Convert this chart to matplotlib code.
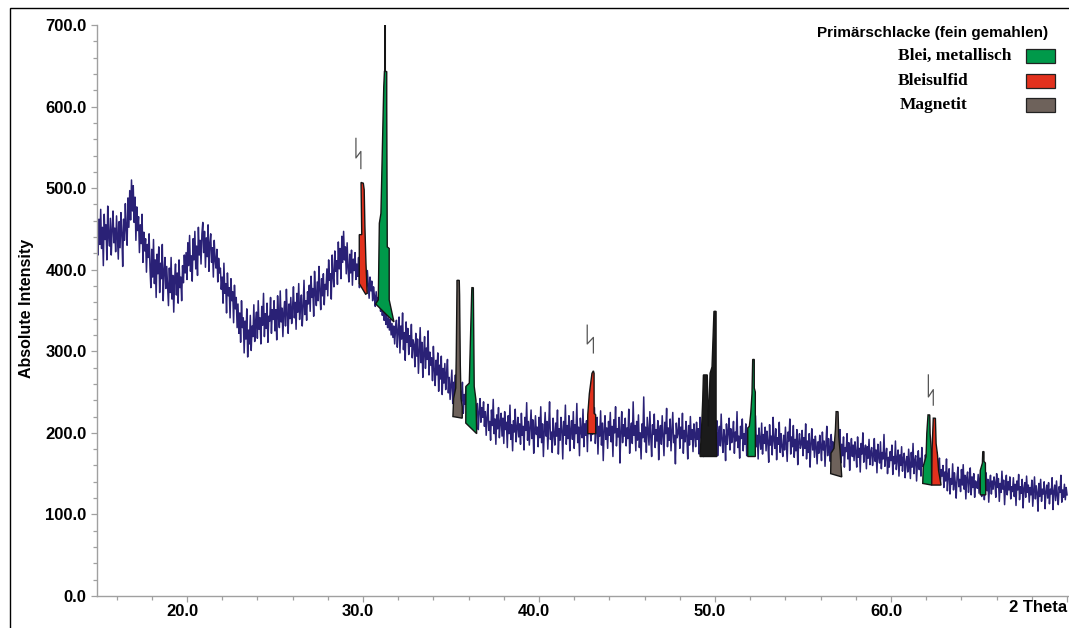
import numpy as np
import matplotlib
matplotlib.use("Agg")
import matplotlib.pyplot as plt
from matplotlib.patches import Rectangle
from matplotlib.ticker import MultipleLocator, FuncFormatter
import matplotlib.transforms as mtransforms

# ---------------- data ----------------
scan_start = 14.9      # 2 Theta of first point
scan_step = 0.05       # 2 Theta step
intensity = [
    445, 418, 462, 431, 474, 426, 452, 405, 468, 437, 455, 412, 478, 441, 429, 463, 418, 449, 472, 433,
    451, 422, 466, 438, 413, 459, 427, 470, 445, 404, 462, 436, 481, 449, 430, 488, 452, 497, 461, 510,
    472, 503, 458, 489, 436, 477, 448, 465, 421, 455, 432, 468, 409, 446, 423, 438, 397, 431, 415, 444,
    402, 378, 425, 391, 437, 383, 412, 366, 419, 395, 428, 372, 408, 389, 431, 362, 398, 415, 377, 404,
    381, 356, 402, 372, 415, 364, 393, 348, 388, 407, 369, 396, 359, 412, 378, 391, 362, 405, 384, 418,
    396, 421, 388, 433, 405, 442, 398, 417, 386, 438, 412, 447, 401, 429, 393, 452, 418, 436, 407, 444,
    458, 421, 447, 403, 439, 416, 455, 398, 432, 444, 409, 427, 391, 436, 412, 402, 425, 385, 414, 396,
    402, 376, 391, 359, 408, 371, 383, 347, 396, 368, 378, 341, 389, 362, 373, 335, 381, 352, 366, 329,
    358, 322, 347, 311, 362, 329, 341, 298, 337, 315, 352, 293, 326, 309, 344, 301, 331, 318, 357, 312,
    336, 348, 316, 362, 327, 341, 309, 355, 332, 371, 318, 346, 328, 359, 311, 343, 337, 366, 322, 351,
    339, 362, 325, 351, 314, 368, 342, 329, 374, 336, 353, 318, 347, 361, 331, 376, 345, 322, 358, 340,
    366, 334, 352, 379, 341, 360, 327, 371, 348, 383, 339, 357, 369, 331, 354, 387, 345, 362, 338, 373,
    358, 381, 349, 392, 366, 377, 343, 398, 371, 356, 385, 362, 404, 375, 351, 389, 368, 395, 357, 382,
    376, 401, 368, 412, 387, 395, 364, 418, 392, 379, 423, 398, 411, 382, 434, 401, 426, 389, 441, 409,
    447, 412, 428, 395, 433, 402, 385, 419, 396, 424, 381, 413, 399, 421, 388, 407, 392, 415, 378, 401,
    396, 384, 410, 377, 402, 388, 371, 399, 382, 365, 391, 374, 386, 362, 379, 368, 355, 373, 359, 366,
    358, 371, 349, 362, 344, 357, 338, 351, 333, 346, 329, 341, 326, 339, 320, 334, 317, 331, 309, 327,
    338, 305, 326, 342, 298, 331, 315, 347, 302, 323, 289, 336, 311, 328, 296, 319, 306, 333, 292, 314,
    308, 281, 322, 294, 315, 273, 301, 329, 286, 311, 268, 297, 318, 279, 304, 290, 325, 271, 299, 283,
    292, 264, 306, 277, 258, 289, 271, 298, 251, 283, 266, 294, 247, 279, 261, 285, 253, 273, 290, 249,
    268, 241, 259, 277, 236, 262, 249, 271, 231, 255, 244, 266, 228, 251, 239, 262, 224, 247, 235, 256,
    229, 246, 218, 238, 224, 251, 212, 233, 221, 243, 209, 229, 236, 204, 225, 242, 213, 231, 219, 238,
    208, 226, 197, 219, 235, 203, 214, 191, 228, 209, 241, 199, 217, 186, 222, 205, 231, 194, 213, 224,
    196, 218, 187, 226, 204, 213, 182, 221, 199, 234, 192, 210, 178, 215, 201, 229, 189, 206, 219, 195,
    211, 186, 224, 197, 208, 179, 219, 203, 237, 191, 214, 185, 206, 228, 193, 216, 175, 202, 221, 198,
    207, 183, 219, 194, 232, 188, 211, 171, 203, 225, 196, 214, 180, 207, 238, 192, 201, 176, 218, 199,
    185, 212, 196, 228, 174, 205, 191, 219, 203, 168, 214, 197, 234, 186, 209, 193, 221, 178, 204, 215,
    192, 226, 181, 210, 199, 236, 188, 207, 172, 218, 201, 194, 229, 183, 211, 197, 215, 177, 220, 203,
    209, 190, 223, 198, 214, 231, 187, 205, 219, 174, 208, 196, 227, 185, 212, 166, 203, 221, 192, 206,
    181, 214, 197, 225, 189, 208, 171, 216, 200, 232, 184, 205, 195, 219, 163, 201, 226, 188, 210, 196,
    218, 184, 206, 193, 229, 175, 203, 212, 187, 238, 197, 209, 178, 214, 191, 222, 182, 200, 168, 211,
    194, 244, 189, 207, 176, 219, 201, 185, 226, 195, 171, 210, 198, 223, 182, 204, 190, 215, 167, 202,
    209, 186, 221, 195, 172, 213, 199, 230, 183, 206, 191, 217, 178, 203, 225, 188, 197, 162, 212, 194,
    200, 218, 181, 207, 193, 224, 175, 203, 189, 214, 196, 168, 209, 185, 220, 192, 204, 177, 211, 198,
    183, 213, 192, 205, 174, 219, 196, 187, 208, 171, 201, 190, 215, 182, 206, 194, 178, 209, 188, 199,
    193, 180, 206, 188, 215, 172, 199, 208, 184, 223, 191, 176, 204, 195, 166, 211, 186, 201, 218, 179,
    205, 188, 197, 214, 175, 201, 190, 226, 182, 196, 169, 208, 193, 217, 178, 199, 186, 211, 172, 203,
    194, 181, 209, 187, 200, 176, 215, 190, 221, 183, 197, 168, 206, 192, 180, 212, 174, 198, 187, 207,
    178, 202, 189, 164, 210, 185, 196, 173, 219, 191, 181, 205, 167, 194, 186, 213, 176, 199, 183, 171,
    197, 179, 207, 186, 165, 201, 190, 217, 174, 195, 183, 209, 170, 192, 178, 204, 161, 188, 199, 181,
    186, 203, 172, 194, 181, 211, 168, 190, 176, 199, 158, 187, 205, 179, 192, 170, 196, 183, 162, 189,
    175, 197, 184, 166, 201, 179, 190, 159, 186, 208, 172, 193, 181, 165, 198, 177, 189, 170, 184, 162,
    180, 167, 191, 175, 204, 163, 186, 172, 195, 158, 182, 177, 199, 168, 188, 154, 179, 193, 171, 185,
    166, 189, 176, 158, 195, 170, 181, 152, 187, 174, 200, 164, 178, 185, 156, 183, 169, 192, 161, 177,
    182, 160, 174, 193, 165, 179, 151, 186, 171, 163, 189, 156, 176, 168, 198, 159, 172, 181, 150, 170,
    158, 177, 166, 185, 149, 171, 162, 190, 155, 168, 179, 147, 173, 160, 183, 153, 169, 175, 145, 164,
    171, 152, 180, 163, 144, 176, 158, 187, 150, 166, 172, 141, 164, 178, 155, 169, 147, 182, 159, 161,
    150, 173, 162, 145, 179, 156, 167, 140, 171, 153, 184, 148, 163, 158, 176, 143, 160, 169, 138, 155,
    147, 160, 133, 152, 141, 168, 129, 149, 156, 125, 144, 137, 162, 130, 151, 139, 120, 146, 158, 134,
    143, 128, 155, 136, 161, 131, 148, 119, 145, 152, 127, 140, 157, 124, 146, 133, 150, 121, 141, 138,
    132, 149, 126, 144, 154, 122, 139, 147, 118, 136, 151, 129, 143, 115, 137, 148, 125, 141, 131, 146,
    139, 121, 150, 133, 144, 116, 138, 127, 153, 131, 142, 112, 135, 148, 124, 140, 130, 146, 119, 134,
    128, 145, 122, 137, 111, 141, 130, 149, 118, 134, 126, 143, 108, 132, 139, 121, 147, 127, 136, 115,
    133, 124, 142, 110, 129, 146, 119, 135, 127, 104, 138, 122, 143, 116, 131, 125, 140, 107, 128, 136,
    120, 139, 113, 131, 125, 145, 106, 128, 136, 117, 141, 123, 112, 134, 127, 148, 115, 130, 121, 137,
    118, 133, 124,
]

# Phase peak outlines (2 Theta, absolute intensity)
pbs_30_tt = [29.79, 29.79, 29.93, 29.89, 30.02, 30.07, 30.11, 30.17, 30.24, 30.15]
pbs_30_i = [383, 443, 443, 507, 506, 498, 453, 408, 371, 370]

pb_31_tt = [30.72, 30.87, 30.93, 31.02, 31.18, 31.22, 31.24, 31.24, 31.27, 31.27, 31.35, 31.35,
            31.38, 31.49, 31.49, 31.76]
pb_31_i = [358, 363, 457, 469, 624, 643, 643, 705, 705, 643, 643, 600, 428, 426, 363, 336]

fe3o4_35_tt = [35.11, 35.15, 35.27, 35.30, 35.34, 35.34, 35.47, 35.49, 35.53, 35.57, 35.64, 35.64]
fe3o4_35_i = [220, 242, 255, 295, 377, 387, 387, 369, 283, 242, 232, 218]

pb_36_tt = [35.84, 35.85, 36.04, 36.18, 36.19, 36.27, 36.32, 36.42, 36.46]
pb_36_i = [212, 257, 261, 375, 378, 378, 257, 240, 199]

pbs_43_tt = [42.77, 42.77, 42.86, 43.01, 43.09, 43.13, 43.13, 43.22, 43.22]
pbs_43_i = [199, 222, 248, 273, 276, 273, 224, 222, 199]

unk_50_tt = [49.15, 49.24, 49.30, 49.34, 49.56, 49.62, 49.72, 49.83, 49.90, 49.94, 50.06, 50.06, 50.10]
unk_50_i = [171, 208, 240, 271, 271, 208, 273, 281, 324, 349, 349, 208, 171]

pb_52_tt = [51.86, 51.86, 51.95, 52.03, 52.10, 52.14, 52.23, 52.23, 52.29, 52.29]
pb_52_i = [171, 206, 208, 224, 248, 290, 290, 255, 250, 171]

fe3o4_57_tt = [56.57, 56.59, 56.76, 56.84, 56.88, 56.99, 57.03, 57.10, 57.20]
fe3o4_57_i = [150, 175, 181, 204, 226, 226, 195, 179, 146]

pb_62_tt = [61.80, 61.83, 61.99, 62.03, 62.10, 62.20, 62.22, 62.29, 62.31]
pb_62_i = [138, 159, 171, 199, 222, 222, 199, 179, 136]

pbs_62_tt = [62.31, 62.33, 62.40, 62.52, 62.56, 62.64, 62.70, 62.84]
pbs_62_i = [136, 179, 218, 218, 187, 173, 154, 136]

pb_65_tt = [65.07, 65.07, 65.19, 65.21, 65.28, 65.28, 65.36, 65.38]
pb_65_i = [124, 154, 163, 177, 177, 165, 163, 124]

# break marks (zig-zag) above peaks: x-left, x-right, y-top, y-kink-low, y-kink-high, y-bottom
break_marks = [
    (29.60, 29.88, 561, 537, 545, 524),
    (42.74, 43.09, 332, 309, 317, 298),
    (62.12, 62.40, 271, 244, 253, 234),
]

legend_title = "Primärschlacke (fein gemahlen)"
legend_labels = ["Blei, metallisch", "Bleisulfid", "Magnetit"]

# ---------------- style ----------------
C_LINE = "#2a2176"
C_GREEN = "#00994a"
C_RED = "#e2311d"
C_GREY = "#6e625b"
C_BLACK = "#1b1b1b"
C_AXIS = "#a0a0a0"
SANS = "Liberation Sans"

W, H = 1069, 628
fig = plt.figure(figsize=(W / 100, H / 100), dpi=100)


def fx(px):
    return px / W


def fy(py):
    return 1 - py / H


ax = fig.add_axes([fx(97), fy(596), fx(1069) - fx(97), fy(25) - fy(596)])
ax.set_xlim(14.89, 70.11)
ax.set_ylim(0, 700)

two_theta = scan_start + scan_step * np.arange(len(intensity))
ax.plot(two_theta, intensity, color=C_LINE, lw=1.1, zorder=2)

peaks = [
    (pbs_30_tt, pbs_30_i, C_RED),
    (pb_31_tt, pb_31_i, C_GREEN),
    (fe3o4_35_tt, fe3o4_35_i, C_GREY),
    (pb_36_tt, pb_36_i, C_GREEN),
    (pbs_43_tt, pbs_43_i, C_RED),
    (unk_50_tt, unk_50_i, C_BLACK),
    (pb_52_tt, pb_52_i, C_GREEN),
    (fe3o4_57_tt, fe3o4_57_i, C_GREY),
    (pb_62_tt, pb_62_i, C_GREEN),
    (pbs_62_tt, pbs_62_i, C_RED),
    (pb_65_tt, pb_65_i, C_GREEN),
]
for xs, ys, c in peaks:
    ax.fill(xs, ys, facecolor=c, edgecolor="#151515", lw=1.0, zorder=3, joinstyle="miter")

for x1, x2, yt, yk1, yk2, yb in break_marks:
    ax.plot([x1, x1, x2, x2], [yt, yk1, yk2, yb], color="#555555", lw=0.9, zorder=4)

# axes styling
for s in ("top", "right"):
    ax.spines[s].set_visible(False)
for s in ("left", "bottom"):
    ax.spines[s].set_color(C_AXIS)
    ax.spines[s].set_linewidth(1.0)

ax.xaxis.set_major_locator(MultipleLocator(10))
ax.xaxis.set_minor_locator(MultipleLocator(2))
ax.yaxis.set_major_locator(MultipleLocator(100))
ax.yaxis.set_minor_locator(MultipleLocator(20))
ax.xaxis.set_major_formatter(FuncFormatter(lambda v, p: "" if v > 69.9 else f"{v:.1f}"))
ax.yaxis.set_major_formatter(FuncFormatter(lambda v, p: f"{v:.1f}"))

ax.tick_params(axis="both", which="both", direction="out", color=C_AXIS, width=0.9)
ax.tick_params(axis="both", which="major", length=4)
ax.tick_params(axis="both", which="minor", length=3)
ax.tick_params(axis="x", which="major", pad=1.5)
ax.tick_params(axis="y", which="major", pad=3.5)
for lab in ax.get_xticklabels() + ax.get_yticklabels():
    lab.set_fontfamily(SANS)
    lab.set_fontsize(12)
    lab.set_fontweight("bold")
    lab.set_color("black")

shift = mtransforms.ScaledTranslation(-5 / 100, 0, fig.dpi_scale_trans)
for lab in ax.get_xticklabels():
    lab.set_transform(lab.get_transform() + shift)

fig.text(fx(1067), fy(607), "2 Theta", ha="right", va="center",
         fontfamily=SANS, fontsize=12, fontweight="bold")
fig.text(fx(27), fy(308), "Absolute Intensity", rotation=90, ha="center", va="center",
         fontfamily=SANS, fontsize=11.5, fontweight="bold")

# legend (manual)
fig.text(fx(817), fy(33), legend_title, ha="left", va="center",
         fontfamily=SANS, fontsize=11, fontweight="bold")
leg_colors = [C_GREEN, C_RED, C_GREY]
leg_rows = [56, 81, 105]
leg_x = [898, 898, 900]
for lab, c, ry, lx in zip(legend_labels, leg_colors, leg_rows, leg_x):
    fig.text(fx(lx), fy(ry), lab, ha="left", va="center",
             fontfamily="Liberation Serif", fontweight="bold", fontsize=12.5)
    fig.add_artist(Rectangle((fx(1026), fy(ry + 7)), fx(1055) - fx(1026), fy(ry - 7) - fy(ry + 7),
                             transform=fig.transFigure, facecolor=c, edgecolor="#222222", lw=0.9))

# outer frame
fig.add_artist(Rectangle((fx(10), fy(640)), 1.2, fy(8) - fy(640), transform=fig.transFigure,
                         fill=False, edgecolor="black", lw=1.0))

fig.savefig("out.png", dpi=100)
